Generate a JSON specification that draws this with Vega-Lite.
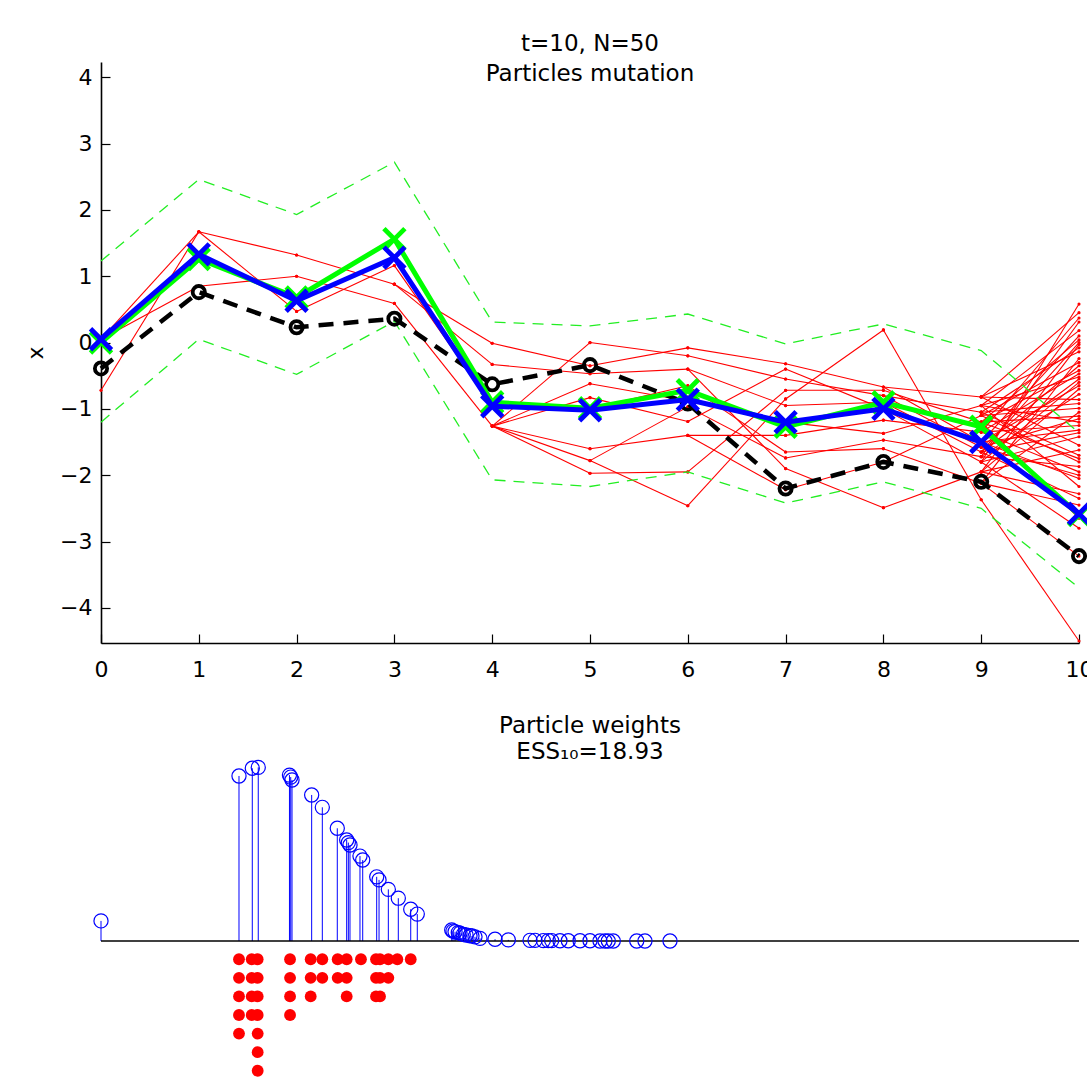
{
"$schema":"https://vega.github.io/schema/vega-lite/v6.json",
"background":"white",
"padding":{"left":24,"top":33,"right":0,"bottom":0},
"spacing":9,
"bounds":"flush",
"datasets":{
"ms":[
{"t0":0,"tr":-0.39,"g":0.0,"b":0.05,"u":1.23,"l":-1.2},
{"t0":1,"tr":0.76,"g":1.26,"b":1.33,"u":2.46,"l":0.05},
{"t0":2,"tr":0.23,"g":0.68,"b":0.63,"u":1.93,"l":-0.48},
{"t0":3,"tr":0.36,"g":1.56,"b":1.28,"u":2.72,"l":0.32},
{"t0":4,"tr":-0.63,"g":-0.9,"b":-0.96,"u":0.31,"l":-2.07},
{"t0":5,"tr":-0.34,"g":-0.99,"b":-1.02,"u":0.25,"l":-2.17},
{"t0":6,"tr":-0.92,"g":-0.72,"b":-0.86,"u":0.43,"l":-1.95},
{"t0":7,"tr":-2.2,"g":-1.27,"b":-1.2,"u":-0.02,"l":-2.42},
{"t0":8,"tr":-1.8,"g":-0.9,"b":-1.0,"u":0.28,"l":-2.1},
{"t0":9,"tr":-2.1,"g":-1.27,"b":-1.5,"u":-0.12,"l":-2.5},
{"t0":10,"tr":-3.22,"g":-2.6,"b":-2.58,"u":-1.36,"l":-3.7}
],
"tr":[
{"t0":0,"t1":1,"a":0.05,"b":1.67},{"t0":0,"t1":1,"a":-0.72,"b":1.67},{"t0":0,"t1":1,"a":0.05,"b":0.85},
{"t0":1,"t1":2,"a":1.67,"b":1.32},{"t0":1,"t1":2,"a":0.85,"b":1.0},{"t0":1,"t1":2,"a":1.67,"b":0.47},
{"t0":2,"t1":3,"a":1.32,"b":0.88},{"t0":2,"t1":3,"a":1.0,"b":0.59},{"t0":2,"t1":3,"a":0.47,"b":1.16},
{"t0":3,"t1":4,"a":0.88,"b":-0.01},{"t0":3,"t1":4,"a":0.88,"b":-0.33},{"t0":3,"t1":4,"a":0.59,"b":-1.26},{"t0":3,"t1":4,"a":1.16,"b":-0.95},
{"t0":4,"t1":5,"a":-1.26,"b":0.0},{"t0":4,"t1":5,"a":-0.01,"b":-0.35},{"t0":4,"t1":5,"a":-0.33,"b":-0.47},{"t0":4,"t1":5,"a":-1.26,"b":-0.62},{"t0":4,"t1":5,"a":-1.26,"b":-0.83},{"t0":4,"t1":5,"a":-0.95,"b":-1.0},{"t0":4,"t1":5,"a":-1.26,"b":-1.6},{"t0":4,"t1":5,"a":-1.26,"b":-1.78},{"t0":4,"t1":5,"a":-1.26,"b":-1.97},
{"t0":5,"t1":6,"a":-0.35,"b":-0.08},{"t0":5,"t1":6,"a":0.0,"b":-0.2},{"t0":5,"t1":6,"a":-0.47,"b":-0.4},{"t0":5,"t1":6,"a":-1.0,"b":-0.65},{"t0":5,"t1":6,"a":-0.62,"b":-0.88},{"t0":5,"t1":6,"a":-1.78,"b":-0.97},{"t0":5,"t1":6,"a":-0.83,"b":-1.19},{"t0":5,"t1":6,"a":-1.6,"b":-1.4},{"t0":5,"t1":6,"a":-1.97,"b":-1.95},{"t0":5,"t1":6,"a":-1.78,"b":-2.46},
{"t0":6,"t1":7,"a":-0.08,"b":-0.32},{"t0":6,"t1":7,"a":-1.19,"b":-0.4},{"t0":6,"t1":7,"a":-0.2,"b":-0.55},{"t0":6,"t1":7,"a":-1.95,"b":-0.72},{"t0":6,"t1":7,"a":-2.46,"b":-0.85},{"t0":6,"t1":7,"a":-0.4,"b":-0.95},{"t0":6,"t1":7,"a":-0.88,"b":-1.2},{"t0":6,"t1":7,"a":-1.4,"b":-1.4},{"t0":6,"t1":7,"a":-0.65,"b":-1.65},{"t0":6,"t1":7,"a":-0.97,"b":-1.74},{"t0":6,"t1":7,"a":-0.4,"b":-1.9},{"t0":6,"t1":7,"a":-1.4,"b":-2.22},
{"t0":7,"t1":8,"a":-0.85,"b":0.19},{"t0":7,"t1":8,"a":-0.32,"b":-0.67},{"t0":7,"t1":8,"a":-0.72,"b":-0.72},{"t0":7,"t1":8,"a":-0.55,"b":-0.8},{"t0":7,"t1":8,"a":-0.95,"b":-0.9},{"t0":7,"t1":8,"a":-0.4,"b":-1.0},{"t0":7,"t1":8,"a":-1.4,"b":-1.17},{"t0":7,"t1":8,"a":-1.2,"b":-1.37},{"t0":7,"t1":8,"a":-1.74,"b":-1.47},{"t0":7,"t1":8,"a":-1.65,"b":-1.6},{"t0":7,"t1":8,"a":-2.22,"b":-1.8},{"t0":7,"t1":8,"a":-1.9,"b":-2.49},
{"t0":8,"t1":9,"a":-0.67,"b":-0.82},{"t0":8,"t1":9,"a":-1.37,"b":-0.95},{"t0":8,"t1":9,"a":-0.8,"b":-1.05},{"t0":8,"t1":9,"a":-0.72,"b":-1.2},{"t0":8,"t1":9,"a":-1.17,"b":-1.35},{"t0":8,"t1":9,"a":-0.67,"b":-1.5},{"t0":8,"t1":9,"a":-0.9,"b":-1.65},{"t0":8,"t1":9,"a":-1.47,"b":-1.72},{"t0":8,"t1":9,"a":-1.0,"b":-1.8},{"t0":8,"t1":9,"a":-2.49,"b":-1.95},{"t0":8,"t1":9,"a":-1.6,"b":-2.12},{"t0":8,"t1":9,"a":0.19,"b":-2.37},{"t0":8,"t1":9,"a":-1.8,"b":-1.1},{"t0":8,"t1":9,"a":-0.8,"b":-1.58},
{"t0":9,"t1":10,"a":-1.8,"b":0.58},{"t0":9,"t1":10,"a":-0.82,"b":0.45},{"t0":9,"t1":10,"a":-1.35,"b":0.37},{"t0":9,"t1":10,"a":-1.72,"b":0.31},{"t0":9,"t1":10,"a":-0.95,"b":0.18},{"t0":9,"t1":10,"a":-1.5,"b":0.1},{"t0":9,"t1":10,"a":-1.2,"b":0.04},{"t0":9,"t1":10,"a":-1.65,"b":0.0},{"t0":9,"t1":10,"a":-1.95,"b":-0.03},{"t0":9,"t1":10,"a":-1.05,"b":-0.08},
{"t0":9,"t1":10,"a":-0.82,"b":-0.14},{"t0":9,"t1":10,"a":-2.12,"b":-0.24},{"t0":9,"t1":10,"a":-1.1,"b":-0.3},{"t0":9,"t1":10,"a":-1.58,"b":-0.35},{"t0":9,"t1":10,"a":-1.2,"b":-0.42},{"t0":9,"t1":10,"a":-1.35,"b":-0.47},{"t0":9,"t1":10,"a":-0.95,"b":-0.52},{"t0":9,"t1":10,"a":-1.65,"b":-0.55},{"t0":9,"t1":10,"a":-1.8,"b":-0.6},{"t0":9,"t1":10,"a":-1.5,"b":-0.65},
{"t0":9,"t1":10,"a":-1.95,"b":-0.7},{"t0":9,"t1":10,"a":-1.72,"b":-0.78},{"t0":9,"t1":10,"a":-0.82,"b":-0.86},{"t0":9,"t1":10,"a":-1.05,"b":-0.92},{"t0":9,"t1":10,"a":-1.1,"b":-0.99},{"t0":9,"t1":10,"a":-2.12,"b":-1.05},{"t0":9,"t1":10,"a":-1.2,"b":-1.11},{"t0":9,"t1":10,"a":-1.58,"b":-1.15},{"t0":9,"t1":10,"a":-0.95,"b":-1.2},{"t0":9,"t1":10,"a":-1.35,"b":-1.25},
{"t0":9,"t1":10,"a":-1.5,"b":-1.32},{"t0":9,"t1":10,"a":-1.65,"b":-1.36},{"t0":9,"t1":10,"a":-1.8,"b":-1.42},{"t0":9,"t1":10,"a":-0.82,"b":-1.55},{"t0":9,"t1":10,"a":-1.95,"b":-1.62},{"t0":9,"t1":10,"a":-1.05,"b":-1.7},{"t0":9,"t1":10,"a":-1.2,"b":-1.75},{"t0":9,"t1":10,"a":-1.1,"b":-1.8},{"t0":9,"t1":10,"a":-1.72,"b":-1.87},{"t0":9,"t1":10,"a":-1.35,"b":-1.95},
{"t0":9,"t1":10,"a":-1.58,"b":-2.0},{"t0":9,"t1":10,"a":-1.5,"b":-2.05},{"t0":9,"t1":10,"a":-0.95,"b":-2.17},{"t0":9,"t1":10,"a":-1.95,"b":-2.28},{"t0":9,"t1":10,"a":-1.65,"b":-2.35},{"t0":9,"t1":10,"a":-2.12,"b":-2.45},{"t0":9,"t1":10,"a":-1.2,"b":-2.65},{"t0":9,"t1":10,"a":-1.8,"b":-2.8},{"t0":9,"t1":10,"a":-2.12,"b":-3.22},{"t0":9,"t1":10,"a":-2.37,"b":-4.5}
],
"wt":[
{"p":0,"w":0.0091},{"p":14.11,"w":0.0748},{"p":15.47,"w":0.0783},{"p":16.08,"w":0.0787},{"p":19.27,"w":0.0752},{"p":19.4,"w":0.0743},{"p":19.53,"w":0.073},{"p":21.54,"w":0.0662},{"p":22.63,"w":0.0606},{"p":24.16,"w":0.0511},
{"p":25.12,"w":0.0458},{"p":25.29,"w":0.0446},{"p":25.46,"w":0.0435},{"p":26.48,"w":0.0385},{"p":26.76,"w":0.0367},{"p":28.19,"w":0.0291},{"p":28.43,"w":0.0277},{"p":29.38,"w":0.0234},{"p":30.4,"w":0.0194},{"p":31.67,"w":0.0144},
{"p":32.34,"w":0.0122},{"p":35.86,"w":0.005},{"p":35.99,"w":0.0045},{"p":36.2,"w":0.0042},{"p":36.53,"w":0.0038},{"p":36.71,"w":0.0036},{"p":37.04,"w":0.003},{"p":37.32,"w":0.0027},{"p":37.73,"w":0.0024},{"p":37.93,"w":0.0023},
{"p":38.24,"w":0.0019},{"p":38.75,"w":0.0012},{"p":40.29,"w":0.0008},{"p":41.65,"w":0.0005},{"p":43.87,"w":0.0003},{"p":44.38,"w":0.0003},{"p":45.23,"w":0.0002},{"p":45.74,"w":0.0002},{"p":46.08,"w":0.0002},{"p":46.93,"w":0.0001},
{"p":47.78,"w":0.0001},{"p":48.98,"w":0.0001},{"p":50.0,"w":0.0001},{"p":51.02,"w":0.0},{"p":51.53,"w":0.0},{"p":51.87,"w":0.0},{"p":52.38,"w":0.0},{"p":54.78,"w":0.0},{"p":55.62,"w":0.0},{"p":58.18,"w":0.0}
],
"dots":[
{"p":14.11,"k":1},{"p":14.11,"k":2},{"p":14.11,"k":3},{"p":14.11,"k":4},{"p":14.11,"k":5},
{"p":15.41,"k":1},{"p":15.41,"k":2},{"p":15.41,"k":3},{"p":15.41,"k":4},
{"p":16.02,"k":1},{"p":16.02,"k":2},{"p":16.02,"k":3},{"p":16.02,"k":4},{"p":16.02,"k":5},{"p":16.02,"k":6},{"p":16.02,"k":7},
{"p":19.33,"k":1},{"p":19.33,"k":2},{"p":19.33,"k":3},{"p":19.33,"k":4},
{"p":21.44,"k":1},{"p":21.44,"k":2},{"p":21.44,"k":3},
{"p":22.63,"k":1},{"p":22.63,"k":2},
{"p":24.2,"k":1},{"p":24.2,"k":2},
{"p":25.12,"k":1},{"p":25.12,"k":2},{"p":25.12,"k":3},
{"p":26.58,"k":1},
{"p":28.12,"k":1},{"p":28.12,"k":2},{"p":28.12,"k":3},
{"p":28.53,"k":1},{"p":28.53,"k":2},{"p":28.53,"k":3},
{"p":29.38,"k":1},{"p":29.38,"k":2},
{"p":30.3,"k":1},
{"p":31.67,"k":1}
]
},
"vconcat":[
{
"width":978,"height":581,
"title":{"text":["t=10, N=50","Particles mutation"],"lineHeight":30,"offset":-24,"anchor":"middle","frame":"group"},
"encoding":{"x":{"field":"t0","type":"quantitative","scale":{"domain":[0,10],"nice":false,"zero":false},"axis":{"values":[0,1,2,3,4,5,6,7,8,9,10],"format":"d","title":null,"labelPadding":25,"labelFlush":false,"labelOverlap":false}}},
"layer":[
{"data":{"name":"tr"},"mark":{"type":"rule","color":"#ff0000","strokeWidth":1.1},
 "encoding":{"x2":{"field":"t1"},"y":{"field":"a","type":"quantitative","scale":{"domain":[-4.53,4.23],"nice":false,"zero":false},"axis":{"values":[-4,-3,-2,-1,0,1,2,3,4],"format":"d","title":"x","labelPadding":18,"titlePadding":12,"labelFlush":false}},"y2":{"field":"b"}}},
{"data":{"name":"tr"},"mark":{"type":"point","filled":true,"color":"#ff0000","size":10,"opacity":1},
 "encoding":{"y":{"field":"a","type":"quantitative"}}},
{"data":{"name":"tr"},"mark":{"type":"point","filled":true,"color":"#ff0000","size":10,"opacity":1},
 "encoding":{"x":{"field":"t1","type":"quantitative"},"y":{"field":"b","type":"quantitative"}}},
{"data":{"name":"ms"},"mark":{"type":"line","color":"#22ee22","strokeWidth":1.3,"strokeDash":[11,8]},
 "encoding":{"y":{"field":"u","type":"quantitative"}}},
{"data":{"name":"ms"},"mark":{"type":"line","color":"#22ee22","strokeWidth":1.3,"strokeDash":[11,8]},
 "encoding":{"y":{"field":"l","type":"quantitative"}}},
{"data":{"name":"ms"},"mark":{"type":"line","color":"#000000","strokeWidth":4.5,"strokeDash":[15,10]},
 "encoding":{"y":{"field":"tr","type":"quantitative"}}},
{"data":{"name":"ms"},"mark":{"type":"point","filled":false,"color":"#000000","size":150,"strokeWidth":3.8,"opacity":1},
 "encoding":{"y":{"field":"tr","type":"quantitative"}}},
{"data":{"name":"ms"},"mark":{"type":"line","color":"#00ff00","strokeWidth":5},
 "encoding":{"y":{"field":"g","type":"quantitative"}}},
{"data":{"name":"ms"},"mark":{"type":"point","shape":"M-1,-1L1,1M-1,1L1,-1","filled":false,"color":"#00ff00","size":440,"strokeWidth":4.8,"opacity":1},
 "encoding":{"y":{"field":"g","type":"quantitative"}}},
{"data":{"name":"ms"},"mark":{"type":"line","color":"#0000ff","strokeWidth":5},
 "encoding":{"y":{"field":"b","type":"quantitative"}}},
{"data":{"name":"ms"},"mark":{"type":"point","shape":"M-1,-1L1,1M-1,1L1,-1","filled":false,"color":"#0000ff","size":440,"strokeWidth":4.8,"opacity":1},
 "encoding":{"y":{"field":"b","type":"quantitative"}}}
]
},
{
"width":978,"height":289,
"title":{"text":["Particle weights","ESS₁₀=18.93"],"lineHeight":26,"offset":-112,"anchor":"middle","frame":"group"},
"layer":[
{"data":{"name":"wt"},"mark":{"type":"rule","color":"#0000ff","strokeWidth":1},
 "encoding":{"x":{"field":"p","type":"quantitative","scale":{"domain":[0,100],"nice":false,"zero":false},"axis":null},"y":{"field":"w","type":"quantitative","scale":{"domain":[0,0.131],"nice":false,"zero":false},"axis":null},"y2":{"datum":0}}},
{"data":{"values":[{}]},"mark":{"type":"rule","color":"#000000","strokeWidth":1.5},
 "encoding":{"y":{"datum":0}}},
{"data":{"name":"wt"},"mark":{"type":"point","filled":false,"color":"#0000ff","size":200,"strokeWidth":1.2,"opacity":1},
 "encoding":{"x":{"field":"p","type":"quantitative"},"y":{"field":"w","type":"quantitative"}}}
]
},
{
"width":978,"height":130,
"data":{"name":"dots"},
"mark":{"type":"point","filled":true,"color":"#ff0000","size":140,"opacity":1},
"encoding":{"x":{"field":"p","type":"quantitative","scale":{"domain":[0,100],"nice":false,"zero":false},"axis":null},"y":{"field":"k","type":"quantitative","scale":{"domain":[0.5,7.5],"reverse":true,"nice":false,"zero":false},"axis":null}}
}
],
"config":{
"view":{"stroke":null},
"font":"DejaVu Sans",
"axis":{"domainColor":"#000000","domainWidth":1.6,"tickColor":"#000000","tickWidth":1.2,"tickSize":-9,"labelFont":"DejaVu Sans","labelFontSize":22,"labelColor":"#000000","grid":false,"titleFont":"DejaVu Sans","titleFontSize":22,"titleFontWeight":"normal","titleColor":"#000000"},
"title":{"font":"DejaVu Sans","fontSize":23,"fontWeight":"normal","color":"#000000"}
}
}
